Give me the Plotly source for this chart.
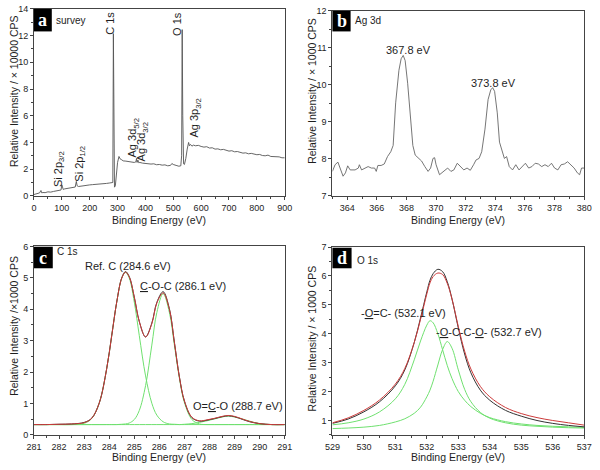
import plotly.graph_objects as go

# ---------------- data ----------------
# (a) survey spectrum, intensity x10000 CPS
survey_be = [0, 5, 10, 15, 20, 25, 28, 32, 40, 50, 60, 70, 80, 90, 97, 100, 102, 105, 110, 120,
             130, 140, 148, 152, 155, 160, 170, 180, 190, 200, 210, 220, 230, 240, 250, 260, 270,
             280, 283, 285, 287, 289, 292, 296, 300, 305, 310, 315, 320, 330, 340, 350, 360, 366,
             368, 370, 373, 376, 380, 390, 400, 410, 420, 430, 440, 450, 460, 470, 480, 490, 495,
             500, 505, 510, 520, 527, 530, 532, 534, 537, 540, 545, 550, 555, 558, 562, 567, 572,
             580, 590, 600, 610, 620, 630, 640, 650, 660, 670, 680, 690, 700, 710, 720, 730, 740,
             750, 760, 770, 780, 790, 800, 810, 820, 830, 840, 850, 860, 870, 880, 890, 900]
survey_int = [0.10, 0.12, 0.18, 0.15, 0.22, 0.40, 0.22, 0.25, 0.24, 0.30, 0.28, 0.33, 0.36, 0.40,
              0.44, 0.82, 0.55, 0.48, 0.52, 0.55, 0.60, 0.62, 0.66, 1.08, 0.75, 0.70, 0.74, 0.78,
              0.79, 0.82, 0.84, 0.85, 0.88, 0.89, 0.92, 0.93, 0.96, 0.98, 1.00, 12.15, 6.0, 0.65,
              0.75, 1.7, 2.5, 2.95, 2.75, 2.70, 2.62, 2.60, 2.55, 2.52, 2.50, 2.55, 2.80, 2.50,
              2.68, 2.48, 2.50, 2.45, 2.42, 2.43, 2.38, 2.40, 2.33, 2.35, 2.30, 2.32, 2.25, 2.28,
              2.42, 2.35, 2.30, 2.28, 2.22, 2.25, 3.0, 12.45, 6.0, 2.40, 2.35, 2.80, 3.50, 4.00,
              3.75, 3.85, 3.72, 3.80, 3.75, 3.78, 3.70, 3.65, 3.68, 3.58, 3.60, 3.50, 3.52, 3.45,
              3.48, 3.40, 3.35, 3.38, 3.30, 3.32, 3.25, 3.20, 3.22, 3.15, 3.18, 3.10, 3.08, 3.10,
              3.02, 3.00, 3.05, 2.95, 2.95, 2.90, 2.92, 2.85, 2.85]

# (b) Ag 3d, intensity x1000 CPS
ag_be = [363.0, 363.18, 363.37, 363.55, 363.72, 363.88, 364.03, 364.2, 364.53, 364.75, 364.82,
         364.97, 365.19, 365.41, 365.63, 365.85, 365.96, 366.07, 366.29, 366.5, 366.72, 366.94,
         367.1, 367.27, 367.49, 367.64, 367.78, 367.91, 368.08, 368.26, 368.43, 368.59, 368.8,
         369.02, 369.24, 369.46, 369.63, 369.79, 369.9, 370.0, 370.23, 370.38, 370.56, 370.78,
         371.0, 371.2, 371.43, 371.65, 371.87, 372.09, 372.31, 372.53, 372.7, 372.9, 373.08,
         373.3, 373.51, 373.69, 373.82, 373.95, 374.13, 374.28, 374.43, 374.61, 374.76, 374.94,
         375.16, 375.38, 375.6, 375.82, 376.03, 376.25, 376.47, 376.69, 376.91, 377.13, 377.35,
         377.57, 377.79, 378.0, 378.22, 378.44, 378.66, 378.88, 379.1, 379.32, 379.54, 379.69,
         379.82, 380.0]
ag_int = [7.66, 7.84, 7.91, 7.70, 7.53, 7.62, 7.81, 7.70, 7.70, 7.75, 7.84, 7.70, 7.75, 7.79,
          7.75, 7.75, 7.66, 7.82, 7.82, 7.86, 8.06, 8.19, 8.36, 9.51, 10.39, 10.70, 10.79, 10.65,
          10.04, 9.07, 8.36, 8.10, 8.01, 7.94, 7.79, 7.66, 7.75, 8.01, 8.03, 7.84, 7.57, 7.62,
          7.70, 7.75, 7.66, 7.70, 7.88, 7.79, 7.70, 7.75, 7.69, 7.84, 7.97, 8.01, 8.19, 8.80,
          9.60, 9.86, 9.92, 9.82, 9.24, 8.45, 8.23, 8.01, 8.06, 7.79, 7.70, 7.84, 7.70, 7.79,
          7.88, 7.75, 7.79, 7.88, 7.86, 7.79, 7.84, 7.79, 7.88, 7.75, 7.70, 7.84, 7.86, 7.92,
          7.84, 7.75, 7.62, 7.57, 7.75, 7.75]
ag_peak_labels = ["367.8 eV", "373.8 eV"]

# (c) C 1s, intensity x1000 CPS
c_be = [281, 281.5, 282, 282.5, 283, 283.3, 283.6, 283.9, 284.1, 284.3, 284.5, 284.65, 284.8,
        285.0, 285.2, 285.45, 285.7, 285.9, 286.15, 286.4, 286.6, 286.8, 287.0, 287.3, 287.6,
        287.9, 288.2, 288.5, 288.75, 289.0, 289.3, 289.6, 290.0, 290.5, 291]
c_measured = [0.33, 0.33, 0.34, 0.35, 0.40, 0.53, 1.01, 2.11, 3.16, 4.23, 5.00, 5.20, 5.04,
              4.39, 3.61, 3.12, 3.56, 4.22, 4.56, 4.02, 2.95, 1.85, 1.08, 0.55, 0.44, 0.47,
              0.52, 0.58, 0.61, 0.58, 0.50, 0.42, 0.36, 0.33, 0.33]
c_fit = [0.33, 0.33, 0.34, 0.35, 0.39, 0.53, 1.01, 2.11, 3.16, 4.23, 4.99, 5.18, 5.03, 4.39,
         3.61, 3.12, 3.54, 4.20, 4.52, 4.00, 2.94, 1.84, 1.08, 0.56, 0.45, 0.48, 0.53, 0.59,
         0.62, 0.59, 0.51, 0.43, 0.36, 0.33, 0.33]
c_ref_c = [0.33, 0.33, 0.33, 0.33, 0.37, 0.52, 1.01, 2.11, 3.16, 4.23, 4.99, 5.18, 4.99, 4.23,
           3.16, 1.88, 1.01, 0.63, 0.42, 0.35, 0.34, 0.33, 0.33, 0.33, 0.33, 0.33, 0.33, 0.33,
           0.33, 0.33, 0.33, 0.33, 0.33, 0.33, 0.33]
c_coc = [0.33, 0.33, 0.33, 0.33, 0.33, 0.33, 0.33, 0.33, 0.33, 0.33, 0.34, 0.35, 0.38, 0.49,
         0.78, 1.57, 2.86, 3.90, 4.50, 3.90, 2.86, 1.80, 1.03, 0.49, 0.35, 0.33, 0.33, 0.33,
         0.33, 0.33, 0.33, 0.33, 0.33, 0.33, 0.33]
c_oco = [0.33, 0.33, 0.33, 0.33, 0.33, 0.33, 0.33, 0.33, 0.33, 0.33, 0.33, 0.33, 0.33, 0.33,
         0.33, 0.33, 0.33, 0.33, 0.33, 0.33, 0.33, 0.33, 0.34, 0.36, 0.40, 0.45, 0.51, 0.57,
         0.60, 0.57, 0.51, 0.44, 0.36, 0.33, 0.33]

# (d) O 1s, intensity x1000 CPS
o_be = [529, 529.5, 530, 530.5, 531, 531.3, 531.6, 531.8, 532.0, 532.1, 532.2, 532.35, 532.5,
        532.65, 532.8, 533.0, 533.2, 533.4, 533.7, 534, 534.5, 535, 535.5, 536, 536.5, 537]
o_measured = [0.90, 1.05, 1.30, 1.65, 2.20, 2.75, 3.70, 4.55, 5.45, 5.85, 6.08, 6.23, 6.15,
              5.80, 5.20, 4.20, 3.30, 2.65, 2.05, 1.70, 1.35, 1.15, 1.00, 0.90, 0.83, 0.78]
o_fit = [0.92, 1.09, 1.35, 1.71, 2.26, 2.80, 3.70, 4.50, 5.38, 5.76, 5.98, 6.10, 6.05, 5.74,
         5.20, 4.25, 3.40, 2.78, 2.18, 1.82, 1.45, 1.24, 1.10, 1.00, 0.92, 0.84]
o_oc = [0.85, 0.92, 1.05, 1.30, 1.75, 2.25, 3.10, 3.75, 4.30, 4.45, 4.38, 4.00, 3.45, 2.90,
        2.45, 2.00, 1.70, 1.48, 1.25, 1.10, 0.96, 0.88, 0.83, 0.80, 0.78, 0.76]
o_occo = [0.72, 0.74, 0.77, 0.83, 0.95, 1.06, 1.25, 1.46, 1.82, 2.05, 2.36, 2.92, 3.45, 3.73,
          3.50, 2.75, 2.08, 1.65, 1.28, 1.08, 0.92, 0.84, 0.80, 0.77, 0.75, 0.74]

x_title = "Binding Energy (eV)"
y_titles = ["Relative Intensity / × 10000 CPS", "Relative Intensity / × 1000 CPS",
            "Relative Intensity /×1000 CPS", "Relative Intensity / × 1000 CPS"]

# ---------------- styling ----------------
FONT = "Liberation Sans, Arial, sans-serif"
TXT = "#1e1e1e"
AX = "#444"
GREEN = "#6fe06f"
RED = "#cc3b3b"
DARK = "#333333"

fig = go.Figure()

fig.add_trace(go.Scatter(x=survey_be, y=survey_int, mode="lines",
                         line=dict(color="#555", width=0.9), xaxis="x", yaxis="y"))
fig.add_trace(go.Scatter(x=ag_be, y=ag_int, mode="lines",
                         line=dict(color="#666", width=0.9), xaxis="x2", yaxis="y2"))
for ys, col in [(c_ref_c, GREEN), (c_coc, GREEN), (c_oco, GREEN), (c_measured, DARK), (c_fit, RED)]:
    fig.add_trace(go.Scatter(x=c_be, y=ys, mode="lines", line=dict(color=col, width=1, shape="spline"),
                             xaxis="x3", yaxis="y3"))
for ys, col in [(o_oc, GREEN), (o_occo, GREEN), (o_measured, DARK), (o_fit, RED)]:
    fig.add_trace(go.Scatter(x=o_be, y=ys, mode="lines", line=dict(color=col, width=1, shape="spline"),
                             xaxis="x4", yaxis="y4"))

W, H = 600, 470
def px(v):
    return v / W
def py(v):
    return 1 - v / H

def axis(dom, rng, minor, anchor, dtick=None, tickvals=None):
    d = dict(domain=dom, range=rng, showline=True, linecolor=AX, linewidth=1, mirror=True,
             ticks="outside", ticklen=3, tickcolor=AX, tickwidth=1, showgrid=False, zeroline=False,
             tickfont=dict(size=9, color=TXT, family=FONT), anchor=anchor,
             minor=dict(dtick=minor, ticks="outside", ticklen=2, tickcolor=AX, showgrid=False))
    if tickvals is not None:
        d["tickvals"] = tickvals
    else:
        d["dtick"] = dtick
    return d

xa_dom = [px(26.7), px(284.3)]
xb_dom = [px(333.3), px(592)]
ytop_dom = [py(195), py(4)]
yb_dom = [py(195), py(5.7)]
ybot_dom = [py(439.3), py(246.7)]
yd_dom = [py(439.3), py(247.3)]

fig.update_layout(
    width=W, height=H, margin=dict(l=0, r=0, t=0, b=0),
    paper_bgcolor="white", plot_bgcolor="white", showlegend=False,
    font=dict(family=FONT, color=TXT),
    xaxis=axis(xa_dom, [0, 900], 50, "y", dtick=100),
    xaxis2=axis(xb_dom, [363, 380], 1, "y2", tickvals=[364, 366, 368, 370, 372, 374, 376, 378, 380]),
    xaxis3=axis(xa_dom, [281, 291], 0.5, "y3", dtick=1),
    xaxis4=axis(xb_dom, [529, 537], 0.5, "y4", dtick=1),
    yaxis=axis(ytop_dom, [0, 14], 1, "x", dtick=2),
    yaxis2=axis(yb_dom, [7, 12], 0.5, "x2", dtick=1),
    yaxis3=axis(ybot_dom, [0, 6], 0.5, "x3", dtick=1),
    yaxis4=axis(yd_dom, [0.5, 7], 0.5, "x4", tickvals=[1, 2, 3, 4, 5, 6, 7]),
)

# axis titles as annotations (pixel positions)
for cx, cy in [(155, 220), (462, 220), (155, 462), (462, 462)]:
    fig.add_annotation(xref="paper", yref="paper", x=px(cx), y=py(cy), text=x_title, showarrow=False,
                       xanchor="center", yanchor="middle", font=dict(size=10.5, color=TXT, family=FONT))
for t, (cx, cy) in zip(y_titles, [(6, 88), (312, 88), (6, 328), (312, 341)]):
    fig.add_annotation(xref="paper", yref="paper", x=px(cx), y=py(cy), text=t, showarrow=False,
                       textangle=-90, xanchor="center", yanchor="middle",
                       font=dict(size=10.5, color=TXT, family=FONT))

# panel letter boxes
boxes = [("a", 26.7, 45, 4, 27, "survey", 47, 15.5),
         ("b", 333.3, 352, 6, 27, "Ag 3d", 354, 15.5),
         ("c", 26.7, 46, 247, 269, "C 1s", 48, 252),
         ("d", 333.3, 353, 248, 269, "O 1s", 357, 261)]
for letter, bx0, bx1, by0, by1, lab, lx, ly in boxes:
    fig.add_shape(type="rect", xref="paper", yref="paper", x0=px(bx0), x1=px(bx1), y0=py(by1), y1=py(by0),
                  fillcolor="black", line=dict(width=0))
    fig.add_annotation(xref="paper", yref="paper", x=px((bx0 + bx1) / 2), y=py((by0 + by1) / 2),
                       text="<b>" + letter + "</b>", showarrow=False, xanchor="center", yanchor="middle",
                       font=dict(family="Liberation Serif, Times New Roman, serif", size=18, color="white"))
    fig.add_annotation(xref="paper", yref="paper", x=px(lx), y=py(ly), text=lab, showarrow=False,
                       xanchor="left", yanchor="middle", font=dict(size=10, color=TXT, family=FONT))

# survey peak labels (rotated)
survey_labels = [("Si 2p<sub>3/2</sub>", 92, 1.98), ("Si 2p<sub>1/2</sub>", 162, 2.42),
                 ("C 1s", 270, 12.9), ("O 1s", 511, 12.9),
                 ("Ag 3d<sub>5/2</sub>", 357, 4.33), ("Ag 3d<sub>3/2</sub>", 389, 4.03),
                 ("Ag 3p<sub>3/2</sub>", 578, 5.79)]
for t, xv, yv in survey_labels:
    fig.add_annotation(xref="x", yref="y", x=xv, y=yv, text=t, textangle=-90, showarrow=False,
                       xanchor="center", yanchor="middle", font=dict(size=11, color=TXT, family=FONT))

fig.add_annotation(xref="x2", yref="y2", x=368.15, y=10.94, text=ag_peak_labels[0], showarrow=False,
                   font=dict(size=11, color=TXT, family=FONT))
fig.add_annotation(xref="x2", yref="y2", x=373.9, y=10.04, text=ag_peak_labels[1], showarrow=False,
                   font=dict(size=11, color=TXT, family=FONT))

fig.add_annotation(xref="x3", yref="y3", x=284.74, y=5.38, text="Ref. C (284.6 eV)", showarrow=False,
                   font=dict(size=11, color=TXT, family=FONT))
fig.add_annotation(xref="x3", yref="y3", x=286.95, y=4.75, text="<u>C</u>-O-C (286.1 eV)", showarrow=False,
                   font=dict(size=11, color=TXT, family=FONT))
fig.add_annotation(xref="x3", yref="y3", x=289.15, y=0.91, text="O=<u>C</u>-O (288.7 eV)", showarrow=False,
                   font=dict(size=11, color=TXT, family=FONT))

fig.add_annotation(xref="x4", yref="y4", x=531.25, y=4.71, text="-<u>O</u>=C- (532.1 eV)", showarrow=False,
                   font=dict(size=11, color=TXT, family=FONT))
fig.add_annotation(xref="x4", yref="y4", x=533.98, y=4.07, text="-<u>O</u>-C-C-<u>O</u>- (532.7 eV)",
                   showarrow=False, font=dict(size=11, color=TXT, family=FONT))

fig.write_html("out.html", config={"displayModeBar": False},
               post_script="document.body.style.margin='0';document.body.style.overflow='hidden';")
